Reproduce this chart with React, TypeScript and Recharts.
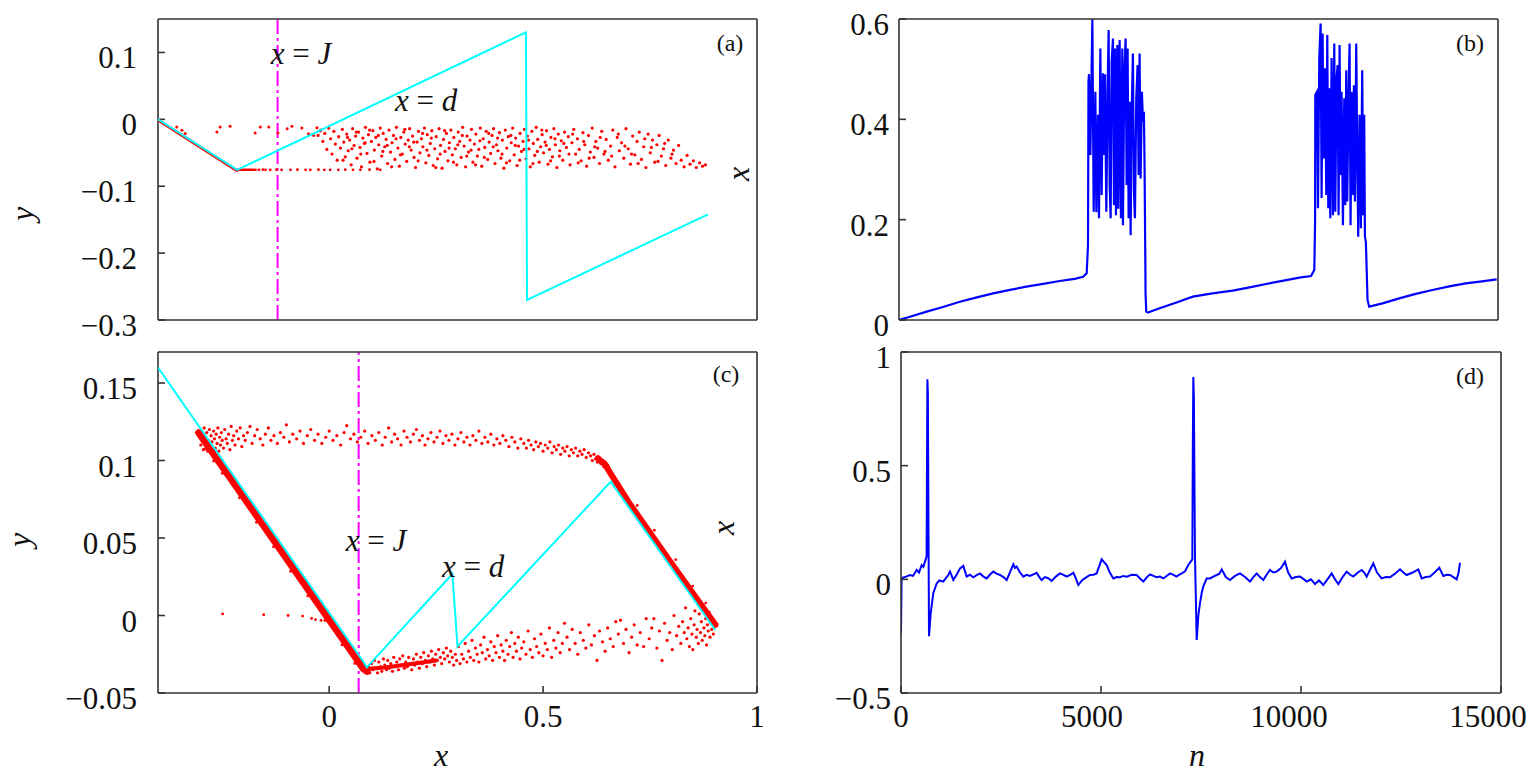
import React from 'react';
import { ComposedChart, LineChart, Line, Scatter, XAxis, YAxis, ReferenceLine } from 'recharts';

const AXIS = '#333333';
const TEXT = '#111111';
const RED = '#ff0000';
const CYAN = '#00ffff';
const BLUE = '#0000ff';
const MAGENTA = '#ff00ff';
const SERIF = '"Liberation Serif", "DejaVu Serif", serif';

// panel (a) axes
const aXDomain = [-0.5, 1.128];
const aXTicks = [0, 0.5, 1];
const aYDomain = [-0.3, 0.15];
const aYTicks = [-0.3, -0.2, -0.1, 0, 0.1];
const aJ = -0.175;

// panel (c) axes
const cXDomain = [-0.4, 1];
const cXTicks = [0, 0.5, 1];
const cYDomain = [-0.05, 0.17];
const cYTicks = [-0.05, 0, 0.05, 0.1, 0.15];
const cJ = 0.069;

// panels (b), (d) axes
const nDomain = [0, 15000];
const nTicks = [0, 5000, 10000, 15000];
const nLabelShift = [0, -9, -12, -13];
const bYDomain = [0, 0.6];
const bYTicks = [0, 0.2, 0.4, 0.6];
const dYDomain = [-0.5, 1];
const dYTicks = [-0.5, 0, 0.5, 1];

// (a) map line x = d
const aCyan = [[-0.5, 0], [-0.285, -0.0755], [0.5, 0.13], [0.503, -0.27], [0.995, -0.142]];
const aRedDiag = [[-0.5, -0.001], [-0.286, -0.0765]];
const aRedRow = [[-0.287, -0.0755], [-0.24, -0.0755]];
const aRowDots = [
  [-0.235, -0.0755], [-0.226, -0.0755], [-0.215, -0.0752], [-0.208, -0.0755], [-0.195, -0.0755], [-0.178, -0.0752],
  [-0.164, -0.0755], [-0.14, -0.0755], [-0.121, -0.0752], [-0.099, -0.0755], [-0.086, -0.0755], [-0.064, -0.0752],
  [-0.048, -0.0755], [-0.032, -0.0755], [-0.01, -0.0755], [0.009, -0.0752], [0.03, -0.0755], [0.05, -0.0755],
  [0.075, -0.0752], [0.104, -0.0755],
];
const aTopDots = [
  [-0.449, -0.0115], [-0.435, -0.0165], [-0.426, -0.021], [-0.34, -0.019], [-0.331, -0.0115], [-0.304, -0.0105],
  [-0.236, -0.0205], [-0.222, -0.0115], [-0.199, -0.0115], [-0.174, -0.0205], [-0.149, -0.014], [-0.136, -0.0105],
  [-0.109, -0.013], [-0.091, -0.0215], [-0.077, -0.024], [-0.068, -0.0125], [-0.059, -0.0175],
];
const aCloud = [
  [-0.065, -0.024], [-0.058, -0.016], [-0.052, -0.033], [-0.047, -0.021], [-0.041, -0.045], [-0.036, -0.013],
  [-0.031, -0.029], [-0.027, -0.052], [-0.022, -0.018], [-0.018, -0.037], [-0.013, -0.061], [-0.009, -0.026],
  [-0.004, -0.043], [0.001, -0.015], [0.005, -0.034], [0.009, -0.056], [0.013, -0.022], [0.017, -0.047],
  [0.021, -0.031], [0.025, -0.068], [0.029, -0.014], [0.033, -0.039], [0.037, -0.025], [0.041, -0.058],
  [0.045, -0.019], [0.049, -0.042], [0.053, -0.071], [0.057, -0.028], [0.061, -0.036], [0.064, -0.012],
  [0.068, -0.051], [0.072, -0.023], [0.076, -0.064], [0.08, -0.033], [0.084, -0.017], [0.088, -0.046],
  [0.092, -0.027], [0.096, -0.074], [0.1, -0.038], [0.104, -0.013], [0.108, -0.055], [0.112, -0.021],
  [0.116, -0.041], [0.12, -0.03], [0.124, -0.066], [0.128, -0.016], [0.132, -0.049], [0.136, -0.035],
  [0.14, -0.024], [0.144, -0.06], [0.148, -0.012], [0.152, -0.043], [0.156, -0.07], [0.16, -0.027],
  [0.164, -0.052], [0.168, -0.019], [0.172, -0.037], [0.176, -0.063], [0.18, -0.031], [0.184, -0.014],
  [0.188, -0.046], [0.192, -0.025], [0.196, -0.057], [0.2, -0.072], [0.204, -0.034], [0.208, -0.018],
  [0.212, -0.05], [0.216, -0.029], [0.22, -0.041], [0.224, -0.013], [0.228, -0.065], [0.232, -0.023],
  [0.236, -0.054], [0.24, -0.036], [0.244, -0.017], [0.248, -0.069], [0.252, -0.044], [0.256, -0.026],
  [0.26, -0.059], [0.264, -0.014], [0.268, -0.039], [0.272, -0.073], [0.276, -0.03], [0.28, -0.048],
  [0.284, -0.021], [0.288, -0.062], [0.292, -0.035], [0.296, -0.016], [0.3, -0.053], [0.304, -0.027],
  [0.308, -0.044], [0.312, -0.068], [0.316, -0.019], [0.32, -0.033], [0.324, -0.057], [0.328, -0.012],
  [0.332, -0.04], [0.336, -0.071], [0.34, -0.025], [0.344, -0.049], [0.348, -0.031], [0.352, -0.015],
  [0.356, -0.064], [0.36, -0.037], [0.364, -0.022], [0.368, -0.055], [0.372, -0.045], [0.376, -0.013],
  [0.38, -0.07], [0.384, -0.029], [0.388, -0.042], [0.392, -0.018], [0.396, -0.06], [0.4, -0.034],
  [0.404, -0.051], [0.408, -0.024], [0.412, -0.014], [0.416, -0.066], [0.42, -0.038], [0.424, -0.047],
  [0.428, -0.02], [0.432, -0.058], [0.436, -0.031], [0.44, -0.073], [0.444, -0.016], [0.448, -0.043],
  [0.452, -0.026], [0.456, -0.062], [0.46, -0.035], [0.464, -0.013], [0.468, -0.053], [0.472, -0.028],
  [0.476, -0.069], [0.48, -0.04], [0.484, -0.021], [0.488, -0.048], [0.492, -0.033], [0.496, -0.015],
  [0.5, -0.059], [0.504, -0.025], [0.508, -0.044], [0.512, -0.071], [0.516, -0.018], [0.52, -0.036],
  [0.524, -0.054], [0.528, -0.012], [0.532, -0.03], [0.536, -0.064], [0.54, -0.041], [0.544, -0.023],
  [0.548, -0.05], [0.552, -0.034], [0.556, -0.017], [0.56, -0.067], [0.564, -0.045], [0.568, -0.027],
  [0.572, -0.056], [0.576, -0.014], [0.58, -0.038], [0.584, -0.072], [0.588, -0.022], [0.592, -0.047],
  [0.596, -0.032], [0.6, -0.061], [0.605, -0.019], [0.61, -0.042], [0.615, -0.026], [0.62, -0.068],
  [0.625, -0.035], [0.63, -0.015], [0.635, -0.052], [0.64, -0.029], [0.645, -0.045], [0.65, -0.062],
  [0.655, -0.02], [0.66, -0.038], [0.665, -0.07], [0.67, -0.024], [0.675, -0.049], [0.68, -0.013],
  [0.685, -0.057], [0.69, -0.033], [0.695, -0.043], [0.7, -0.066], [0.706, -0.018], [0.712, -0.052],
  [0.718, -0.03], [0.724, -0.061], [0.73, -0.04], [0.736, -0.016], [0.742, -0.071], [0.748, -0.027],
  [0.754, -0.047], [0.76, -0.035], [0.766, -0.058], [0.772, -0.014], [0.778, -0.044], [0.784, -0.067],
  [0.79, -0.025], [0.796, -0.053], [0.802, -0.033], [0.808, -0.019], [0.814, -0.06], [0.82, -0.041],
  [0.826, -0.072], [0.832, -0.022], [0.838, -0.05], [0.844, -0.031], [0.85, -0.064], [0.856, -0.038],
  [0.862, -0.024], [0.868, -0.055], [0.874, -0.044], [0.88, -0.069], [0.887, -0.031], [0.894, -0.058],
  [0.901, -0.046], [0.908, -0.066], [0.915, -0.039], [0.922, -0.061], [0.93, -0.071], [0.938, -0.054],
  [0.946, -0.067], [0.955, -0.062], [0.963, -0.072], [0.972, -0.065], [0.98, -0.07], [0.988, -0.068],
  [0.003, -0.061], [0.015, -0.027], [0.027, -0.044], [0.039, -0.019], [0.051, -0.052], [0.063, -0.035],
  [0.075, -0.016], [0.087, -0.063], [0.099, -0.024], [0.111, -0.048], [0.123, -0.039], [0.135, -0.071],
  [0.147, -0.029], [0.159, -0.053], [0.171, -0.015], [0.183, -0.041], [0.195, -0.034], [0.207, -0.062],
  [0.219, -0.021], [0.231, -0.046], [0.243, -0.028], [0.255, -0.072], [0.267, -0.052], [0.279, -0.017],
  [0.291, -0.043], [0.303, -0.064], [0.315, -0.038], [0.327, -0.024], [0.339, -0.055], [0.351, -0.046],
  [0.363, -0.068], [0.375, -0.032], [0.387, -0.057], [0.399, -0.021], [0.411, -0.041], [0.423, -0.028],
  [0.435, -0.052], [0.447, -0.065], [0.459, -0.024], [0.471, -0.039], [0.483, -0.061], [0.495, -0.045],
  [0.507, -0.031], [0.519, -0.066], [0.531, -0.048], [0.543, -0.016], [0.555, -0.039], [0.567, -0.062],
  [0.579, -0.029], [0.591, -0.055], [0.603, -0.036], [0.617, -0.052], [0.627, -0.022], [0.642, -0.065],
  [0.657, -0.033], [0.672, -0.058], [0.687, -0.041], [0.702, -0.027], [0.715, -0.048], [0.733, -0.055],
  [0.751, -0.022], [0.769, -0.04], [0.787, -0.052], [0.805, -0.066], [0.823, -0.029], [0.841, -0.042],
  [0.859, -0.063], [0.877, -0.036], [0.897, -0.052],
];

// (c) map line and orbit
const cCyan = [
  [-0.4, 0.16], [0.08, -0.0298], [0.088, -0.0335], [0.096, -0.031], [0.288, 0.0268], [0.3, -0.02],
  [0.652, 0.0845], [0.659, 0.0862], [0.666, 0.0832], [0.902, -0.0092],
];
const cLeftBand = [[-0.305, 0.1179], [-0.2, 0.0764], [-0.1, 0.0369], [0, -0.0027], [0.05, -0.0224], [0.08, -0.0343], [0.088, -0.036]];
const cDipBand = [[0.085, -0.0345], [0.13, -0.0335], [0.2, -0.031], [0.25, -0.029]];
const cRightBand = [[0.628, 0.1015], [0.645, 0.0975], [0.658, 0.0915], [0.7, 0.0731], [0.8, 0.0338], [0.903, -0.006]];
const cBandEdge = [
  [-0.29, 0.1075], [-0.27, 0.0996], [-0.25, 0.0917], [-0.21, 0.0759], [-0.17, 0.0601], [-0.13, 0.0443],
  [-0.09, 0.0285], [-0.05, 0.0126], [-0.01, -0.0032], [0.03, -0.019], [0.06, -0.0309],
  [0.72, 0.071], [0.76, 0.055], [0.81, 0.036], [0.85, 0.019], [0.88, 0.008],
];
const cStray = [[-0.249, 0.001], [-0.153, 0.0005], [-0.096, 0], [-0.062, -0.0004], [-0.041, -0.0019], [-0.032, -0.0026], [-0.019, -0.0032]];
const cTop = [
  [-0.303, 0.116], [-0.3, 0.11], [-0.298, 0.119], [-0.296, 0.113], [-0.294, 0.107], [-0.292, 0.121], [-0.29, 0.115],
  [-0.288, 0.11], [-0.286, 0.118], [-0.284, 0.106], [-0.282, 0.113], [-0.28, 0.12], [-0.278, 0.109], [-0.276, 0.116],
  [-0.274, 0.112], [-0.272, 0.105], [-0.27, 0.119], [-0.268, 0.114], [-0.266, 0.108], [-0.264, 0.117], [-0.262, 0.111],
  [-0.26, 0.121], [-0.258, 0.106], [-0.256, 0.115], [-0.254, 0.11], [-0.252, 0.118], [-0.25, 0.113], [-0.247, 0.108],
  [-0.244, 0.12], [-0.241, 0.114], [-0.238, 0.111], [-0.235, 0.117], [-0.232, 0.107], [-0.229, 0.122], [-0.226, 0.113],
  [-0.223, 0.116], [-0.22, 0.11], [-0.216, 0.119], [-0.212, 0.114], [-0.208, 0.121], [-0.204, 0.109], [-0.2, 0.116],
  [-0.196, 0.113], [-0.191, 0.118], [-0.185, 0.122], [-0.18, 0.111], [-0.174, 0.116], [-0.168, 0.12], [-0.161, 0.114],
  [-0.155, 0.11], [-0.149, 0.117], [-0.142, 0.121], [-0.136, 0.113], [-0.129, 0.116], [-0.121, 0.111], [-0.114, 0.118],
  [-0.106, 0.115], [-0.1, 0.123], [-0.093, 0.112], [-0.085, 0.117], [-0.076, 0.114], [-0.068, 0.119], [-0.06, 0.111],
  [-0.051, 0.116], [-0.043, 0.12], [-0.034, 0.113], [-0.026, 0.117], [-0.017, 0.111], [-0.008, 0.115], [0, 0.119],
  [0.009, 0.113], [0.018, 0.116], [0.027, 0.11], [0.035, 0.118], [0.041, 0.1225], [0.05, 0.114], [0.058, 0.117],
  [0.066, 0.112], [0.074, 0.115], [0.083, 0.119], [0.091, 0.111], [0.1, 0.116], [0.108, 0.113], [0.116, 0.118],
  [0.124, 0.11], [0.131, 0.115], [0.139, 0.121], [0.146, 0.112], [0.153, 0.117], [0.16, 0.114], [0.168, 0.11],
  [0.175, 0.119], [0.182, 0.115], [0.19, 0.112], [0.197, 0.117], [0.204, 0.12], [0.211, 0.113], [0.218, 0.116],
  [0.224, 0.11], [0.231, 0.114], [0.238, 0.118], [0.245, 0.112], [0.252, 0.115], [0.259, 0.119], [0.266, 0.111],
  [0.273, 0.116], [0.28, 0.113], [0.287, 0.117], [0.294, 0.11], [0.301, 0.114], [0.308, 0.118], [0.315, 0.112],
  [0.322, 0.115], [0.329, 0.11], [0.336, 0.116], [0.343, 0.113], [0.35, 0.119], [0.357, 0.111], [0.364, 0.115],
  [0.371, 0.112], [0.378, 0.117], [0.385, 0.11], [0.392, 0.114], [0.399, 0.111], [0.406, 0.116], [0.413, 0.113],
  [0.42, 0.109], [0.427, 0.115], [0.434, 0.112], [0.441, 0.108], [0.448, 0.114], [0.455, 0.111], [0.461, 0.108],
  [0.466, 0.113], [0.472, 0.11], [0.478, 0.107], [0.483, 0.112], [0.489, 0.109], [0.494, 0.111], [0.5, 0.106],
  [0.505, 0.11], [0.511, 0.108], [0.516, 0.112], [0.521, 0.105], [0.526, 0.109], [0.531, 0.107], [0.536, 0.11],
  [0.541, 0.104], [0.546, 0.108], [0.551, 0.106], [0.556, 0.109], [0.561, 0.103], [0.566, 0.107], [0.571, 0.105],
  [0.576, 0.108], [0.581, 0.103], [0.586, 0.106], [0.591, 0.104], [0.596, 0.107], [0.601, 0.102], [0.606, 0.105],
  [0.611, 0.103], [0.615, 0.1], [0.619, 0.104], [0.623, 0.101], [0.627, 0.099], [0.631, 0.102], [0.635, 0.098],
  [0.639, 0.1], [0.642, 0.096], [0.645, 0.099], [0.648, 0.095], [0.651, 0.097], [0.654, 0.094],
];
const cBottom = [
  [0.088, -0.036], [0.092, -0.033], [0.095, -0.037], [0.099, -0.031], [0.102, -0.035], [0.106, -0.029], [0.109, -0.034],
  [0.113, -0.037], [0.116, -0.03], [0.12, -0.033], [0.123, -0.036], [0.127, -0.028], [0.13, -0.032], [0.134, -0.035],
  [0.137, -0.029], [0.141, -0.034], [0.144, -0.031], [0.148, -0.036], [0.151, -0.027], [0.155, -0.033], [0.158, -0.03],
  [0.162, -0.035], [0.165, -0.028], [0.169, -0.032], [0.172, -0.026], [0.176, -0.034], [0.179, -0.03], [0.183, -0.033],
  [0.186, -0.027], [0.19, -0.031], [0.193, -0.035], [0.197, -0.028], [0.2, -0.032], [0.204, -0.025], [0.207, -0.03],
  [0.211, -0.034], [0.214, -0.027], [0.218, -0.031], [0.221, -0.024], [0.225, -0.029], [0.228, -0.033], [0.232, -0.026],
  [0.235, -0.03], [0.239, -0.023], [0.242, -0.028], [0.246, -0.032], [0.249, -0.025], [0.253, -0.029], [0.256, -0.022],
  [0.26, -0.027], [0.263, -0.031], [0.267, -0.024], [0.27, -0.028], [0.274, -0.021], [0.277, -0.026], [0.281, -0.03],
  [0.284, -0.023], [0.288, -0.027], [0.291, -0.032], [0.295, -0.025], [0.298, -0.029],
  [0.302, -0.02], [0.306, -0.031], [0.31, -0.025], [0.314, -0.028], [0.318, -0.018], [0.322, -0.03], [0.326, -0.023],
  [0.33, -0.027], [0.334, -0.016], [0.338, -0.029], [0.342, -0.021], [0.346, -0.025], [0.35, -0.03], [0.354, -0.019],
  [0.358, -0.024], [0.362, -0.014], [0.366, -0.028], [0.37, -0.022], [0.374, -0.026], [0.378, -0.017], [0.382, -0.029],
  [0.386, -0.02], [0.39, -0.024], [0.394, -0.013], [0.398, -0.027], [0.402, -0.019], [0.406, -0.023], [0.41, -0.029],
  [0.414, -0.016], [0.418, -0.025], [0.422, -0.02], [0.426, -0.011], [0.43, -0.027], [0.434, -0.018], [0.438, -0.023],
  [0.442, -0.014], [0.446, -0.028], [0.45, -0.021], [0.455, -0.017], [0.46, -0.025], [0.465, -0.01], [0.47, -0.022],
  [0.475, -0.027], [0.48, -0.015], [0.485, -0.02], [0.49, -0.024], [0.495, -0.012], [0.5, -0.026], [0.505, -0.018],
  [0.51, -0.022], [0.515, -0.008], [0.52, -0.027], [0.525, -0.016], [0.53, -0.021], [0.535, -0.011], [0.54, -0.024],
  [0.545, -0.018], [0.55, -0.005],
  [0.556, -0.014], [0.562, -0.022], [0.568, -0.009], [0.575, -0.018], [0.581, -0.025], [0.587, -0.011], [0.594, -0.016],
  [0.6, -0.021], [0.607, -0.006], [0.613, -0.019], [0.62, -0.013], [0.626, -0.029], [0.632, -0.01], [0.639, -0.017],
  [0.645, -0.023], [0.651, -0.008], [0.657, -0.015], [0.664, -0.02], [0.67, -0.004], [0.676, -0.012], [0.681, -0.003],
  [0.688, -0.018], [0.694, -0.009], [0.701, -0.024], [0.707, -0.014], [0.713, -0.006], [0.72, -0.019], [0.727, -0.011],
  [0.735, -0.02], [0.741, -0.002], [0.748, -0.015], [0.754, -0.008], [0.759, -0.002], [0.766, -0.021], [0.772, -0.01],
  [0.778, -0.029], [0.784, -0.005], [0.79, -0.016], [0.796, -0.011], [0.802, -0.022], [0.806, 0], [0.812, -0.013],
  [0.817, -0.007],
  [0.822, -0.018], [0.826, -0.004], [0.83, -0.011], [0.833, 0.005], [0.836, -0.015], [0.839, -0.008], [0.842, -0.02],
  [0.845, -0.002], [0.848, -0.012], [0.85, -0.022], [0.853, -0.006], [0.855, 0.003], [0.858, -0.014], [0.86, -0.009],
  [0.863, -0.018], [0.865, 0.001], [0.868, -0.011], [0.87, -0.004], [0.872, -0.016], [0.874, 0.006], [0.876, -0.008],
  [0.878, -0.013], [0.88, -0.002], [0.882, -0.019], [0.884, -0.006], [0.886, -0.01], [0.888, 0.002], [0.89, -0.014],
  [0.892, -0.005], [0.894, -0.009], [0.896, -0.003], [0.898, -0.012], [0.9, -0.007],
];

// (b) x_n against n
const bSeries = [
  [0, 0], [275, 0.0066], [692, 0.0166], [1100, 0.026], [1525, 0.0365], [1950, 0.045], [2358, 0.0532], [2780, 0.06],
  [3192, 0.0664], [3610, 0.072], [4025, 0.0777], [4400, 0.082], [4608, 0.0863], [4700, 0.093], [4733, 0.149],
  [4745, 0.475], [4758, 0.49], [4792, 0.329], [4842, 0.6], [4875, 0.216], [4917, 0.455], [4942, 0.215], [4983, 0.409],
  [5008, 0.203], [5042, 0.541], [5075, 0.249], [5108, 0.492], [5133, 0.329], [5158, 0.49], [5192, 0.216], [5225, 0.468],
  [5250, 0.578], [5275, 0.269], [5300, 0.203], [5325, 0.515], [5358, 0.561], [5383, 0.229], [5408, 0.541], [5433, 0.209],
  [5467, 0.548], [5492, 0.222], [5525, 0.558], [5558, 0.203], [5592, 0.541], [5608, 0.189], [5642, 0.49], [5675, 0.561],
  [5700, 0.269], [5725, 0.541], [5750, 0.203], [5775, 0.435], [5800, 0.169], [5825, 0.409], [5858, 0.531], [5883, 0.256],
  [5908, 0.203], [5942, 0.442], [5975, 0.508], [6000, 0.289], [6025, 0.531], [6050, 0.282], [6083, 0.455], [6108, 0.395],
  [6133, 0.415], [6150, 0.3], [6175, 0.05], [6192, 0.0166], [6233, 0.015], [6525, 0.0233], [6950, 0.035], [7358, 0.0465],
  [7850, 0.053], [8358, 0.0584], [8780, 0.065], [9192, 0.0718], [9600, 0.078], [10025, 0.0843], [10317, 0.0877],
  [10400, 0.0997], [10420, 0.2], [10425, 0.449], [10467, 0.455], [10492, 0.223], [10525, 0.522], [10558, 0.591],
  [10583, 0.243], [10608, 0.571], [10633, 0.322], [10667, 0.502], [10700, 0.249], [10725, 0.568], [10750, 0.223],
  [10775, 0.462], [10800, 0.203], [10833, 0.522], [10867, 0.209], [10900, 0.551], [10925, 0.216], [10958, 0.482],
  [10983, 0.508], [11008, 0.209], [11033, 0.548], [11058, 0.289], [11083, 0.455], [11117, 0.189], [11150, 0.442],
  [11175, 0.229], [11200, 0.498], [11225, 0.236], [11258, 0.449], [11283, 0.551], [11308, 0.189], [11333, 0.455],
  [11367, 0.249], [11392, 0.468], [11417, 0.236], [11450, 0.551], [11475, 0.329], [11500, 0.166], [11533, 0.409],
  [11567, 0.183], [11600, 0.498], [11625, 0.209], [11650, 0.409], [11667, 0.167], [11692, 0.155], [11733, 0.04],
  [11775, 0.0266], [12108, 0.0332], [12525, 0.0432], [12940, 0.052], [13358, 0.0598], [13780, 0.067], [14192, 0.0731],
  [14600, 0.077], [14967, 0.0811],
];

// (d) x_n against n
const dSeries = [
  [0, -0.237], [15, 0.005], [100, 0.01], [225, 0.019], [300, 0.015], [392, 0.041], [450, 0.03], [517, 0.063], [560, 0.055],
  [600, 0.078], [640, 0.1], [652, 0.6], [660, 0.88], [672, 0.82], [688, 0.2], [700, -0.25], [742, -0.15], [808, -0.06],
  [892, -0.018], [960, -0.005], [1058, -0.01], [1120, 0.005], [1183, 0.019], [1225, 0.034], [1260, 0.02], [1308, -0.003],
  [1390, 0.02], [1475, 0.048], [1558, 0.059], [1600, 0.035], [1642, 0.012], [1720, 0.02], [1808, 0.009], [1890, 0.018],
  [1975, 0.026], [2060, 0.012], [2142, 0.004], [2220, 0.02], [2308, 0.034], [2390, 0.025], [2475, 0.019], [2560, 0.01],
  [2642, -0.003], [2720, 0.03], [2808, 0.066], [2850, 0.05], [2892, 0.056], [2975, 0.03], [3058, 0.012], [3140, 0.02],
  [3225, 0.015], [3310, 0.022], [3392, 0.029], [3450, 0.012], [3517, -0.003], [3600, 0.01], [3680, 0.005], [3767, -0.007],
  [3870, 0.012], [3975, 0.026], [4060, 0.02], [4142, 0.012], [4230, 0.02], [4308, 0.029], [4370, 0.005], [4433, -0.025],
  [4500, -0.01], [4558, 0], [4640, 0.01], [4725, 0.019], [4810, 0.02], [4892, 0.026], [4960, 0.06], [5017, 0.088],
  [5080, 0.075], [5142, 0.063], [5220, 0.03], [5308, 0.004], [5390, 0.01], [5475, 0.009], [5560, 0.015], [5642, 0.012],
  [5770, 0.02], [5892, 0.019], [5970, 0.005], [6058, -0.01], [6140, 0.008], [6225, 0.022], [6310, 0.015], [6392, 0.009],
  [6475, 0.012], [6558, 0.004], [6640, 0.015], [6725, 0.026], [6810, 0.02], [6892, 0.012], [6950, 0.02], [7017, 0.026],
  [7100, 0.035], [7183, 0.063], [7283, 0.088], [7296, 0.6], [7308, 0.89], [7322, 0.8], [7350, 0.1], [7392, -0.267],
  [7433, -0.16], [7475, -0.105], [7517, -0.06], [7560, -0.03], [7642, 0.004], [7725, 0.004], [7808, 0.012], [7892, 0.019],
  [7960, 0.025], [8017, 0.044], [8120, 0.01], [8225, -0.003], [8350, 0.015], [8475, 0.026], [8600, 0.01], [8725, -0.01],
  [8810, 0.01], [8892, 0.026], [8975, 0.01], [9058, -0.003], [9140, 0.02], [9225, 0.041], [9310, 0.03], [9392, 0.034],
  [9500, 0.05], [9600, 0.078], [9680, 0.03], [9767, 0.004], [9870, 0.01], [9975, 0.012], [10060, 0.002], [10142, -0.01],
  [10250, 0], [10350, -0.021], [10450, -0.005], [10558, -0.025], [10660, 0], [10767, 0.026], [10850, 0], [10933, -0.021],
  [11040, 0.01], [11142, 0.034], [11230, 0.02], [11308, 0.012], [11420, 0.03], [11517, 0.041], [11580, 0.03],
  [11642, 0.012], [11720, 0.04], [11808, 0.07], [11900, 0.03], [12017, 0.004], [12120, 0.01], [12225, 0.009],
  [12350, 0.025], [12475, 0.044], [12560, 0.03], [12642, 0.019], [12790, 0.03], [12933, 0.044], [13017, 0.004],
  [13120, 0.01], [13225, 0.012], [13340, 0.03], [13458, 0.051], [13558, 0.015], [13640, 0.02], [13725, 0.019],
  [13810, 0.01], [13892, 0], [13940, 0.03], [13975, 0.073],
];

const pts = (a: number[][]) => a.map(([x, y]) => ({ x, y }));
const series = (a: number[][]) => a.map(([n, x]) => ({ n, x }));
const fmt = (v: number) => String(v).replace('-', '\u2212');

const LINE = { stroke: AXIS, strokeWidth: 1.6 };
const dot = (r: number) => (p: any) => <circle cx={p.cx} cy={p.cy} r={r} fill={RED} />;
const none = () => <g />;

const YTick = (p: any) => (
  <text x={p.x} y={p.y + 5} dy="0.355em" textAnchor="end" fill={TEXT} fontSize={31} fontFamily={SERIF}>
    {fmt(p.payload.value)}
  </text>
);
const makeXTick = (shift: number[]) => (p: any) => (
  <text x={p.x + (shift[p.index] || 0)} y={p.y} dy="0.71em" textAnchor="middle" fill={TEXT} fontSize={31} fontFamily={SERIF}>
    {fmt(p.payload.value)}
  </text>
);

// box with inward ticks on all four sides
const frame = (o: any) => [
  <XAxis key="xb" type="number" dataKey={o.xKey} domain={o.xDomain} ticks={o.xTicks} allowDataOverflow interval={0}
    height={o.xHeight} tickSize={-7} tickMargin={19} tick={o.xTick || false} axisLine={LINE} tickLine={LINE} />,
  <XAxis key="xt" xAxisId="top" orientation="top" type="number" domain={o.xDomain} ticks={o.xTicks} allowDataOverflow
    interval={0} height={1} tickSize={-7} tick={false} axisLine={LINE} tickLine={LINE} />,
  <YAxis key="yl" type="number" dataKey={o.yKey} domain={o.yDomain} ticks={o.yTicks} allowDataOverflow interval={0}
    width={o.yWidth} tickSize={-7} tickMargin={o.yGap} tick={YTick} axisLine={LINE} tickLine={LINE} />,
  <YAxis key="yr" yAxisId="right" orientation="right" type="number" domain={o.yDomain} ticks={o.yTicks} allowDataOverflow
    interval={0} width={1} tickSize={-7} tick={false} axisLine={LINE} tickLine={LINE} />,
];

const Note = ({ x, y, size = 31, rotate = false, children }: any) => (
  <div
    style={{
      position: 'absolute', left: x, top: y, transform: `translate(-50%, -50%)${rotate ? ' rotate(-90deg)' : ''}`,
      fontFamily: SERIF, fontSize: size, lineHeight: 1, whiteSpace: 'nowrap', color: TEXT,
    }}
  >
    {children}
  </div>
);
const Eq = ({ v }: any) => (
  <span><i>x</i>&nbsp;=&nbsp;<i>{v}</i></span>
);

const band = (w: number) => ({ stroke: RED, strokeWidth: w, strokeLinejoin: 'round', strokeLinecap: 'round' });

function PanelA() {
  return (
    <ComposedChart width={780} height={350} margin={{ top: 18, right: 22, bottom: 0, left: 0 }}>
      {frame({ xKey: 'x', yKey: 'y', xDomain: aXDomain, xTicks: aXTicks, yDomain: aYDomain, yTicks: aYTicks, xHeight: 30, yWidth: 158, yGap: 28 })}
      <Scatter data={pts(aRedDiag)} line={band(3)} shape={none} isAnimationActive={false} />
      <Scatter data={pts(aRedRow)} line={band(2.5)} shape={none} isAnimationActive={false} />
      <Scatter data={pts(aRowDots)} shape={dot(1.4)} isAnimationActive={false} />
      <Scatter data={pts(aTopDots)} shape={dot(1.5)} isAnimationActive={false} />
      <Scatter data={pts(aCloud)} shape={dot(1.6)} isAnimationActive={false} />
      <Scatter data={pts(aCyan)} line={{ stroke: CYAN, strokeWidth: 2 }} shape={none} isAnimationActive={false} />
      <ReferenceLine x={aJ} stroke={MAGENTA} strokeWidth={2} strokeDasharray="15 4 3 4" />
    </ComposedChart>
  );
}

function PanelC() {
  return (
    <ComposedChart width={780} height={440} margin={{ top: 11, right: 22, bottom: 0, left: 0 }}>
      {frame({ xKey: 'x', yKey: 'y', xDomain: cXDomain, xTicks: cXTicks, yDomain: cYDomain, yTicks: cYTicks, xHeight: 87, yWidth: 158, yGap: 28, xTick: makeXTick([]) })}
      <Scatter data={pts(cLeftBand)} line={band(7)} shape={none} isAnimationActive={false} />
      <Scatter data={pts(cDipBand)} line={band(4)} shape={none} isAnimationActive={false} />
      <Scatter data={pts(cRightBand)} line={band(6)} shape={none} isAnimationActive={false} />
      <Scatter data={pts(cBandEdge)} shape={dot(1.4)} isAnimationActive={false} />
      <Scatter data={pts(cStray)} shape={dot(1.4)} isAnimationActive={false} />
      <Scatter data={pts(cTop)} shape={dot(1.6)} isAnimationActive={false} />
      <Scatter data={pts(cBottom)} shape={dot(1.6)} isAnimationActive={false} />
      <Scatter data={pts(cCyan)} line={{ stroke: CYAN, strokeWidth: 2 }} shape={none} isAnimationActive={false} />
      <ReferenceLine x={cJ} stroke={MAGENTA} strokeWidth={2} strokeDasharray="15 4 3 4" />
    </ComposedChart>
  );
}

function PanelB() {
  return (
    <LineChart width={750} height={350} data={series(bSeries)} margin={{ top: 18, right: 31, bottom: 0, left: 0 }}>
      {frame({ xKey: 'n', xDomain: nDomain, xTicks: nTicks, yDomain: bYDomain, yTicks: bYTicks, xHeight: 30, yWidth: 119, yGap: 17 })}
      <Line type="linear" dataKey="x" stroke={BLUE} strokeWidth={2.2} dot={false} isAnimationActive={false} />
    </LineChart>
  );
}

function PanelD() {
  return (
    <LineChart width={750} height={440} data={series(dSeries)} margin={{ top: 11, right: 28, bottom: 0, left: 0 }}>
      {frame({ xKey: 'n', xDomain: nDomain, xTicks: nTicks, yDomain: dYDomain, yTicks: dYTicks, xHeight: 87, yWidth: 121, yGap: 17, xTick: makeXTick(nLabelShift) })}
      <Line type="linear" dataKey="x" stroke={BLUE} strokeWidth={2} dot={false} isAnimationActive={false} />
    </LineChart>
  );
}

export default function App() {
  return (
    <div style={{ position: 'absolute', left: 0, top: 0, width: 1530, height: 780, background: '#fff', overflow: 'hidden' }}>
      <div style={{ position: 'absolute', left: 0, top: 0 }}><PanelA /></div>
      <div style={{ position: 'absolute', left: 780, top: 0 }}><PanelB /></div>
      <div style={{ position: 'absolute', left: 0, top: 340 }}><PanelC /></div>
      <div style={{ position: 'absolute', left: 780, top: 340 }}><PanelD /></div>

      <Note x={730} y={43} size={24}>(a)</Note>
      <Note x={1470} y={43} size={24}>(b)</Note>
      <Note x={726} y={374} size={24}>(c)</Note>
      <Note x={1470} y={376} size={24}>(d)</Note>

      <Note x={301} y={53}><Eq v="J" /></Note>
      <Note x={426} y={100}><Eq v="d" /></Note>
      <Note x={376} y={540}><Eq v="J" /></Note>
      <Note x={473} y={566}><Eq v="d" /></Note>

      <Note x={22} y={214} size={32} rotate><i>y</i></Note>
      <Note x={19} y={540} size={32} rotate><i>y</i></Note>
      <Note x={738} y={174} size={32} rotate><i>x</i></Note>
      <Note x={723} y={528} size={32} rotate><i>x</i></Note>
      <Note x={441} y={755} size={32}><i>x</i></Note>
      <Note x={1197} y={755} size={32}><i>n</i></Note>
    </div>
  );
}
